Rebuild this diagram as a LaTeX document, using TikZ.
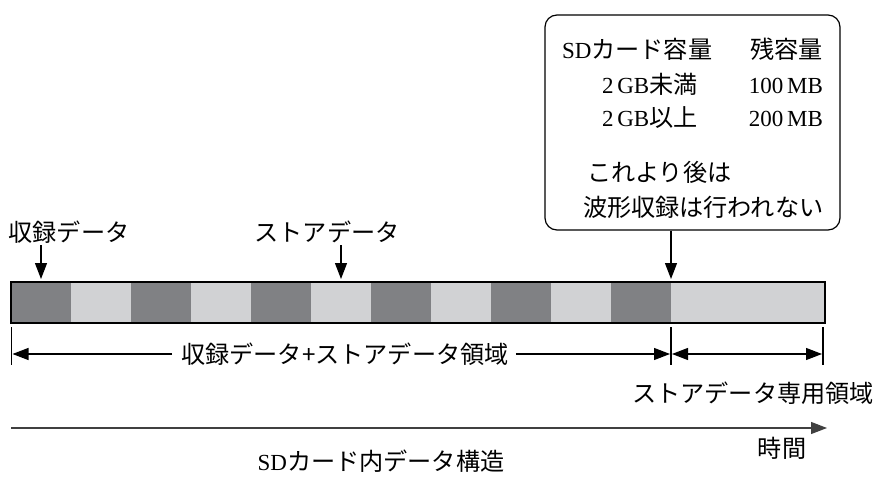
\documentclass[tikz,border=0pt]{standalone}
\usepackage{fontspec}
\setmainfont{Liberation Serif}
\newfontfamily\cjk[Scale=1.05]{Noto Sans CJK JP}
\usetikzlibrary{arrows.meta}
\definecolor{darkg}{HTML}{808184}
\definecolor{lightg}{HTML}{D1D2D4}
\begin{document}
\begin{tikzpicture}[x=1pt,y=-1pt,
  font=\fontsize{23}{27}\selectfont,
  seg/.style={draw=none, minimum height=41pt, inner sep=0pt, outer sep=0pt},
  dk/.style={seg, minimum width=60pt, fill=darkg},
  lt/.style={seg, minimum width=60pt, fill=lightg},
  arr/.style={-{Triangle[length=16pt,width=12pt]}, line width=1.2pt},
  dim/.style={{Triangle[length=16pt,width=12pt]}-{Triangle[length=16pt,width=12pt]}, line width=1.2pt},
  txt/.style={inner sep=0pt, outer sep=0pt},
  tick/.style={line width=1.2pt}]
\useasboundingbox (0,0) rectangle (875,481);

% bar segments
\foreach \k in {0,...,10}{
  \ifodd\k
    \node[lt] (s\k) at ({41+60*\k},302.5) {};
  \else
    \node[dk] (s\k) at ({41+60*\k},302.5) {};
  \fi
}
\node[seg, minimum width=154pt, fill=lightg] (s11) at (748,302.5) {};
\draw[line width=2pt] (s0.north west) rectangle (s11.south east);

% callout box
\node[draw, rounded corners=12pt, line width=1.2pt, minimum width=295pt, minimum height=215pt, inner sep=0pt] (box) at (692.5,122.5) {};
\node[txt, anchor=base west] (r1a) at (562,59) {SD\cjk カード容量};
\node[txt, anchor=base east] (r1b) at (823,59) {\cjk 残容量};
\node[txt, anchor=base west] (r2a) at (602,94) {2\,GB\cjk 未満};
\node[txt, anchor=base east] (r2b) at (823,94) {100\,MB};
\node[txt, anchor=base west] (r3a) at (602,127) {2\,GB\cjk 以上};
\node[txt, anchor=base east] (r3b) at (823,127) {200\,MB};
\node[txt, anchor=base west] (r4) at (587,182) {\cjk これより後は};
\node[txt, anchor=base west] (r5) at (583,217) {\cjk 波形収録は行われない};
\draw[arr, shorten >=3pt] (box.south -| s10.east) -- (s10.north east);

% top labels
\node[txt, anchor=base] (lab1) at (69,241) {\cjk 収録データ};
\node[txt, anchor=base] (lab2) at (327,241) {\cjk ストアデータ};
\coordinate (a1) at (41,245);
\coordinate (a2) at (341,245);
\draw[arr, shorten >=3pt] (a1) -- (s0.north);
\draw[arr, shorten >=3pt] (a2) -- (s5.north);

% dimension lines
\coordinate (t1a) at (11.5,327);  \coordinate (t1b) at (11.5,365);
\coordinate (t2a) at (671,327);   \coordinate (t2b) at (671,365);
\coordinate (t3a) at (823,327);   \coordinate (t3b) at (823,365);
\draw[tick] (t1a) -- (t1b);
\draw[tick] (t2a) -- (t2b);
\draw[tick] (t3a) -- (t3b);
\node[inner sep=0pt, anchor=base] (dimtxt) at (345,363) {\cjk 収録データ+ストアデータ領域};
\coordinate (d1) at (12.5,354);
\coordinate (d2) at (670,354);
\coordinate (d3) at (672,354);
\coordinate (d4) at (822,354);
\draw[arr] ([xshift=-9pt]dimtxt.west |- d1) -- (d1);
\draw[arr] ([xshift=7pt]dimtxt.east |- d2) -- (d2);
\draw[dim] (d3) -- (d4);
\node[txt, anchor=base] (lab3) at (753,402) {\cjk ストアデータ専用領域};

% time axis
\coordinate (ts) at (11,428);
\coordinate (te) at (827,428);
\draw[arr, draw=black!75, fill=black] (ts) -- (te);
\node[txt, anchor=base] (time) at (782,457) {\cjk 時間};
\node[txt, anchor=base] (title) at (381,470) {SD\cjk カード内データ構造};
\end{tikzpicture}
\end{document}
